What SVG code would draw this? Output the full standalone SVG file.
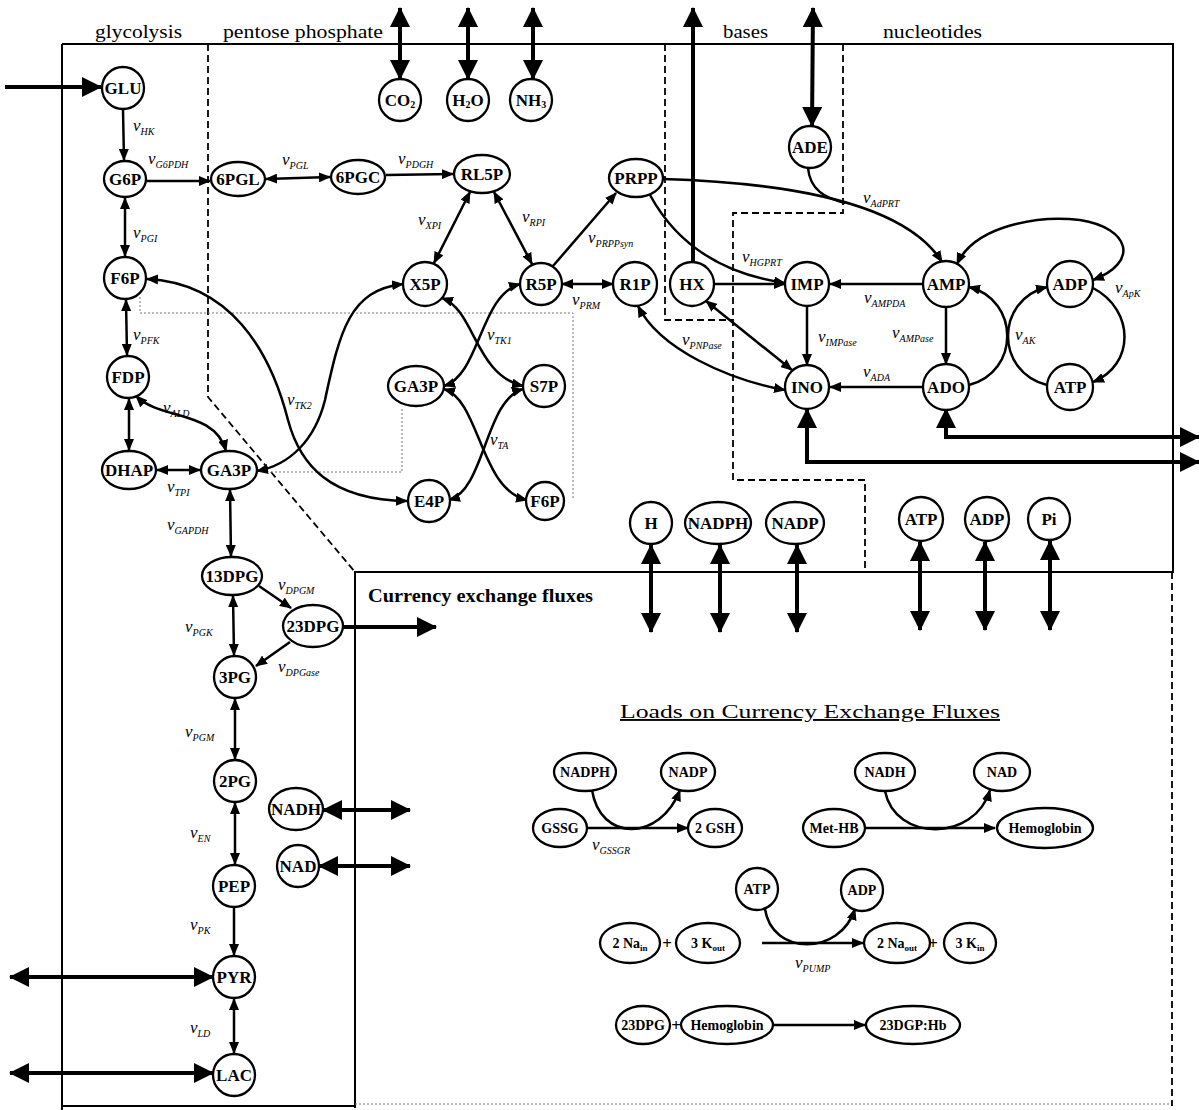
<svg xmlns="http://www.w3.org/2000/svg" width="1199" height="1110" viewBox="0 0 1199 1110">
<defs>
<marker id="a" viewBox="0 0 12 10" refX="11" refY="5" markerWidth="12" markerHeight="10" markerUnits="userSpaceOnUse" orient="auto-start-reverse"><path d="M0,0 L12,5 L0,10 z" fill="#000"/></marker>
<marker id="b" viewBox="0 0 20 20" refX="19" refY="10" markerWidth="20" markerHeight="20" markerUnits="userSpaceOnUse" orient="auto-start-reverse"><path d="M0,0 L20,10 L0,20 z" fill="#000"/></marker>
<style>
.n{fill:#fff;stroke:#000;stroke-width:2.3}
.t{font-family:"Liberation Serif",serif;font-weight:bold;font-size:17px;text-anchor:middle;dominant-baseline:central;fill:#000}
.ts{font-size:14px}
.e{fill:none;stroke:#000;stroke-width:2.5}
.x{fill:none;stroke:#000;stroke-width:4}
.v{font-family:"Liberation Serif",serif;font-style:italic;font-size:17px;fill:#000}
.s{font-size:10px}
.h{font-family:"Liberation Serif",serif;font-size:19px;fill:#000}
.bd{fill:none;stroke:#000;stroke-width:2}
.ds{fill:none;stroke:#000;stroke-width:1.8;stroke-dasharray:7 4}
.dt{fill:none;stroke:#777;stroke-width:1;stroke-dasharray:2 2}
</style>
</defs>
<rect width="1199" height="1110" fill="#fff"/>
<g id="borders">
<path class="bd" d="M62,44 L1173,44 L1173,572 L355,572 L355,1108"/>
<path class="bd" d="M62,44 L62,1110"/>
<path class="bd" d="M62,1106 L355,1106"/>
<path class="dt" d="M355,1104 L1172,1104"/>
<path class="ds" d="M1172,572 L1172,1106"/>
<path class="ds" d="M208,44 L208,397 L355,572"/>
<path class="ds" d="M665,44 L665,320 L733,320"/>
<path class="ds" d="M843,44 L843,213 L733,213 L733,480 L865,480 L865,572"/>
<path class="dt" d="M140,297 L140,313 L573,313 L573,500"/>
<path class="dt" d="M267,472 L402,472 L402,408"/>
</g>
<g id="titles">
<text class="h" x="95" y="38" textLength="87" lengthAdjust="spacingAndGlyphs">glycolysis</text>
<text class="h" x="223" y="38" textLength="160" lengthAdjust="spacingAndGlyphs">pentose  phosphate</text>
<text class="h" x="723" y="38" textLength="45" lengthAdjust="spacingAndGlyphs">bases</text>
<text class="h" x="883" y="38" textLength="99" lengthAdjust="spacingAndGlyphs">nucleotides</text>
<text class="h" x="368" y="602" font-weight="bold" font-size="17" textLength="225" lengthAdjust="spacingAndGlyphs">Currency exchange fluxes</text>
<text class="h" x="620" y="718" font-size="23" text-decoration="underline" textLength="380" lengthAdjust="spacingAndGlyphs">Loads on Currency Exchange Fluxes</text>
</g>
<g id="connectors">
<path class="e" d="M123,110 L124,160" marker-end="url(#a)"/>
<path class="e" d="M147,181 L210,181" marker-end="url(#a)"/>
<path class="e" d="M266,179 L330,177" marker-start="url(#a)" marker-end="url(#a)"/>
<path class="e" d="M386,175 L453,174" marker-end="url(#a)"/>
<path class="e" d="M125,198 L125,256" marker-start="url(#a)" marker-end="url(#a)"/>
<path class="e" d="M126,300 L127,355" marker-start="url(#a)" marker-end="url(#a)"/>
<path class="e" d="M129,399 L129,450" marker-start="url(#a)" marker-end="url(#a)"/>
<path class="e" d="M136,396 C160,420 215,410 226,451" marker-start="url(#a)" marker-end="url(#a)"/>
<path class="e" d="M157,470 L200,470" marker-start="url(#a)" marker-end="url(#a)"/>
<path class="e" d="M230,490 L231,556" marker-start="url(#a)" marker-end="url(#a)"/>
<path class="e" d="M233,596 L234,655" marker-start="url(#a)" marker-end="url(#a)"/>
<path class="e" d="M259,586 L291,608" marker-end="url(#a)"/>
<path class="e" d="M290,642 L256,666" marker-end="url(#a)"/>
<path class="e" d="M235,699 L235,759" marker-start="url(#a)" marker-end="url(#a)"/>
<path class="e" d="M235,803 L235,864" marker-start="url(#a)" marker-end="url(#a)"/>
<path class="e" d="M234,908 L234,955" marker-end="url(#a)"/>
<path class="e" d="M234,999 L234,1053" marker-start="url(#a)" marker-end="url(#a)"/>
<path class="e" d="M470,192 L434,263" marker-start="url(#a)" marker-end="url(#a)"/>
<path class="e" d="M494,192 L532,264" marker-start="url(#a)" marker-end="url(#a)"/>
<path class="e" d="M553,266 L616,193" marker-end="url(#a)"/>
<path class="e" d="M562,284 L613,284" marker-start="url(#a)" marker-end="url(#a)"/>
<path class="e" d="M442,298 C475,310 475,375 523,386" marker-start="url(#a)" marker-end="url(#a)"/>
<path class="e" d="M444,386 C480,375 480,295 520,284" marker-start="url(#a)" marker-end="url(#a)"/>
<path class="e" d="M444,389 C480,400 480,490 527,500" marker-start="url(#a)" marker-end="url(#a)"/>
<path class="e" d="M523,389 C485,400 485,490 449,500" marker-start="url(#a)" marker-end="url(#a)"/>
<path class="e" d="M147,279 C230,283 270,350 288,420 C300,465 330,500 407,501" marker-start="url(#a)" marker-end="url(#a)"/>
<path class="e" d="M257,471 C290,465 315,440 325,400 C340,330 350,290 403,284" marker-start="url(#a)" marker-end="url(#a)"/>
<path class="e" d="M650,195 C680,250 730,275 785,283" marker-end="url(#a)"/>
<path class="e" d="M714,284 L785,284" marker-end="url(#a)"/>
<path class="e" d="M663,179 C760,182 900,195 942,262" marker-end="url(#a)"/>
<path class="e" d="M808,168 C810,190 825,198 845,203"/>
<path class="e" d="M957,264 C975,225 1040,215 1080,220 C1130,228 1140,262 1093,280" marker-start="url(#a)" marker-end="url(#a)"/>
<path class="e" d="M1093,288 C1135,310 1135,365 1093,382" marker-end="url(#a)"/>
<path class="e" d="M969,287 C1020,300 1020,372 969,385" marker-start="url(#a)"/>
<path class="e" d="M1047,287 C995,300 995,372 1047,385" marker-start="url(#a)"/>
<path class="e" d="M923,284 L830,284" marker-end="url(#a)"/>
<path class="e" d="M807,306 L807,365" marker-end="url(#a)"/>
<path class="e" d="M946,307 L946,364" marker-end="url(#a)"/>
<path class="e" d="M923,387 L830,387" marker-end="url(#a)"/>
<path class="e" d="M638,306 C660,350 730,380 785,390" marker-start="url(#a)" marker-end="url(#a)"/>
<path class="e" d="M706,301 L792,370" marker-start="url(#a)" marker-end="url(#a)"/>
<path class="x" d="M5,87 L101,87" marker-end="url(#b)"/>
<path class="x" d="M400,8 L400,79" marker-start="url(#b)" marker-end="url(#b)"/>
<path class="x" d="M468,8 L468,79" marker-start="url(#b)" marker-end="url(#b)"/>
<path class="x" d="M533,8 L533,79" marker-start="url(#b)" marker-end="url(#b)"/>
<path class="x" d="M693,262 L693,8" marker-end="url(#b)"/>
<path class="x" d="M813,8 L812,126" marker-start="url(#b)" marker-end="url(#b)"/>
<path class="x" d="M946,409 L946,437 L1199,437" marker-start="url(#b)" marker-end="url(#b)"/>
<path class="x" d="M807,409 L807,462 L1199,462" marker-start="url(#b)" marker-end="url(#b)"/>
<path class="x" d="M343,627 L436,627" marker-end="url(#b)"/>
<path class="x" d="M323,810 L410,810" marker-start="url(#b)" marker-end="url(#b)"/>
<path class="x" d="M319,866 L410,866" marker-start="url(#b)" marker-end="url(#b)"/>
<path class="x" d="M10,977 L213,977" marker-start="url(#b)" marker-end="url(#b)"/>
<path class="x" d="M10,1073 L213,1073" marker-start="url(#b)" marker-end="url(#b)"/>
<path class="x" d="M651,545 L651,632" marker-start="url(#b)" marker-end="url(#b)"/>
<path class="x" d="M720,545 L720,632" marker-start="url(#b)" marker-end="url(#b)"/>
<path class="x" d="M797,545 L797,632" marker-start="url(#b)" marker-end="url(#b)"/>
<path class="x" d="M920,542 L920,630" marker-start="url(#b)" marker-end="url(#b)"/>
<path class="x" d="M985,542 L985,630" marker-start="url(#b)" marker-end="url(#b)"/>
<path class="x" d="M1050,541 L1050,630" marker-start="url(#b)" marker-end="url(#b)"/>
<path class="e" d="M588,828 L688,828" marker-end="url(#a)"/>
<path class="e" d="M592,790 C600,842 660,842 680,790" marker-end="url(#a)"/>
<path class="e" d="M865,828 L995,828" marker-end="url(#a)"/>
<path class="e" d="M885,791 C895,842 975,842 990,790" marker-end="url(#a)"/>
<path class="e" d="M762,943 L863,943" marker-end="url(#a)"/>
<path class="e" d="M765,909 C772,956 840,956 855,909" marker-end="url(#a)"/>
<path class="e" d="M772,1025 L865,1025" marker-end="url(#a)"/>
</g>
<g id="labels">
<text class="v" x="133" y="131">v<tspan class="s" dy="4">HK</tspan></text>
<text class="v" x="148" y="164">v<tspan class="s" dy="4">G6PDH</tspan></text>
<text class="v" x="282" y="165">v<tspan class="s" dy="4">PGL</tspan></text>
<text class="v" x="398" y="164">v<tspan class="s" dy="4">PDGH</tspan></text>
<text class="v" x="133" y="238">v<tspan class="s" dy="4">PGI</tspan></text>
<text class="v" x="133" y="340">v<tspan class="s" dy="4">PFK</tspan></text>
<text class="v" x="163" y="413">v<tspan class="s" dy="4">ALD</tspan></text>
<text class="v" x="167" y="492">v<tspan class="s" dy="4">TPI</tspan></text>
<text class="v" x="167" y="530">v<tspan class="s" dy="4">GAPDH</tspan></text>
<text class="v" x="278" y="590">v<tspan class="s" dy="4">DPGM</tspan></text>
<text class="v" x="185" y="632">v<tspan class="s" dy="4">PGK</tspan></text>
<text class="v" x="278" y="672">v<tspan class="s" dy="4">DPGase</tspan></text>
<text class="v" x="185" y="737">v<tspan class="s" dy="4">PGM</tspan></text>
<text class="v" x="190" y="838">v<tspan class="s" dy="4">EN</tspan></text>
<text class="v" x="190" y="930">v<tspan class="s" dy="4">PK</tspan></text>
<text class="v" x="190" y="1033">v<tspan class="s" dy="4">LD</tspan></text>
<text class="v" x="418" y="225">v<tspan class="s" dy="4">XPI</tspan></text>
<text class="v" x="522" y="222">v<tspan class="s" dy="4">RPI</tspan></text>
<text class="v" x="588" y="243">v<tspan class="s" dy="4">PRPPsyn</tspan></text>
<text class="v" x="572" y="305">v<tspan class="s" dy="4">PRM</tspan></text>
<text class="v" x="487" y="340">v<tspan class="s" dy="4">TK1</tspan></text>
<text class="v" x="490" y="445">v<tspan class="s" dy="4">TA</tspan></text>
<text class="v" x="287" y="405">v<tspan class="s" dy="4">TK2</tspan></text>
<text class="v" x="742" y="262">v<tspan class="s" dy="4">HGPRT</tspan></text>
<text class="v" x="863" y="203">v<tspan class="s" dy="4">AdPRT</tspan></text>
<text class="v" x="1115" y="293">v<tspan class="s" dy="4">ApK</tspan></text>
<text class="v" x="864" y="303">v<tspan class="s" dy="4">AMPDA</tspan></text>
<text class="v" x="818" y="342">v<tspan class="s" dy="4">IMPase</tspan></text>
<text class="v" x="892" y="338">v<tspan class="s" dy="4">AMPase</tspan></text>
<text class="v" x="1015" y="340">v<tspan class="s" dy="4">AK</tspan></text>
<text class="v" x="863" y="377">v<tspan class="s" dy="4">ADA</tspan></text>
<text class="v" x="682" y="345">v<tspan class="s" dy="4">PNPase</tspan></text>
<text class="v" x="592" y="850">v<tspan class="s" dy="4">GSSGR</tspan></text>
<text class="v" x="795" y="968">v<tspan class="s" dy="4">PUMP</tspan></text>
</g>
<g id="GLU"><circle class="n" cx="123" cy="88" r="21"/><text class="t" x="123" y="88">GLU</text></g>
<g id="G6P"><ellipse class="n" cx="125" cy="179" rx="21" ry="18"/><text class="t" x="125" y="179">G6P</text></g>
<g id="F6P"><circle class="n" cx="125" cy="278" r="21"/><text class="t" x="125" y="278">F6P</text></g>
<g id="FDP"><circle class="n" cx="128" cy="377" r="21"/><text class="t" x="128" y="377">FDP</text></g>
<g id="DHAP"><ellipse class="n" cx="129" cy="470" rx="27" ry="19"/><text class="t" x="129" y="470">DHAP</text></g>
<g id="GA3P-1"><ellipse class="n" cx="229" cy="470" rx="28" ry="19"/><text class="t" x="229" y="470">GA3P</text></g>
<g id="DPG13"><ellipse class="n" cx="232" cy="576" rx="30" ry="19"/><text class="t" x="232" y="576">13DPG</text></g>
<g id="DPG23"><ellipse class="n" cx="313" cy="626" rx="30" ry="21"/><text class="t" x="313" y="626">23DPG</text></g>
<g id="PG3"><circle class="n" cx="235" cy="677" r="21"/><text class="t" x="235" y="677">3PG</text></g>
<g id="PG2"><circle class="n" cx="235" cy="781" r="21"/><text class="t" x="235" y="781">2PG</text></g>
<g id="PEP"><circle class="n" cx="234" cy="886" r="21"/><text class="t" x="234" y="886">PEP</text></g>
<g id="PYR"><circle class="n" cx="234" cy="977" r="21"/><text class="t" x="234" y="977">PYR</text></g>
<g id="LAC"><circle class="n" cx="234" cy="1075" r="21"/><text class="t" x="234" y="1075">LAC</text></g>
<g id="NADH-1"><ellipse class="n" cx="296" cy="809" rx="27" ry="21"/><text class="t" x="296" y="809">NADH</text></g>
<g id="NAD-1"><circle class="n" cx="298" cy="866" r="21"/><text class="t" x="298" y="866">NAD</text></g>
<g id="PGL6"><ellipse class="n" cx="238" cy="179" rx="27" ry="17"/><text class="t" x="238" y="179">6PGL</text></g>
<g id="PGC6"><ellipse class="n" cx="358" cy="177" rx="27" ry="17"/><text class="t" x="358" y="177">6PGC</text></g>
<g id="RL5P"><ellipse class="n" cx="482" cy="174" rx="28" ry="19"/><text class="t" x="482" y="174">RL5P</text></g>
<g id="PRPP"><ellipse class="n" cx="636" cy="178" rx="27" ry="19"/><text class="t" x="636" y="178">PRPP</text></g>
<g id="CO2"><circle class="n" cx="400" cy="100" r="21"/><text class="t" x="400" y="100">CO<tspan font-size="10" dy="4">2</tspan></text></g>
<g id="H2O"><circle class="n" cx="468" cy="100" r="21"/><text class="t" x="468" y="100">H<tspan font-size="10" dy="4">2</tspan><tspan dy="-4">O</tspan></text></g>
<g id="NH3"><circle class="n" cx="531" cy="100" r="21"/><text class="t" x="531" y="100">NH<tspan font-size="10" dy="4">3</tspan></text></g>
<g id="ADE"><circle class="n" cx="810" cy="147" r="21"/><text class="t" x="810" y="147">ADE</text></g>
<g id="X5P"><circle class="n" cx="425" cy="284" r="22"/><text class="t" x="425" y="284">X5P</text></g>
<g id="R5P"><circle class="n" cx="541" cy="284" r="21"/><text class="t" x="541" y="284">R5P</text></g>
<g id="R1P"><circle class="n" cx="635" cy="284" r="22"/><text class="t" x="635" y="284">R1P</text></g>
<g id="HX"><circle class="n" cx="692" cy="284" r="22"/><text class="t" x="692" y="284">HX</text></g>
<g id="IMP"><circle class="n" cx="807" cy="284" r="22"/><text class="t" x="807" y="284">IMP</text></g>
<g id="AMP"><circle class="n" cx="946" cy="284" r="23"/><text class="t" x="946" y="284">AMP</text></g>
<g id="ADP-1"><circle class="n" cx="1070" cy="284" r="23"/><text class="t" x="1070" y="284">ADP</text></g>
<g id="GA3P-2"><ellipse class="n" cx="416" cy="386" rx="28" ry="20"/><text class="t" x="416" y="386">GA3P</text></g>
<g id="S7P"><circle class="n" cx="544" cy="386" r="21"/><text class="t" x="544" y="386">S7P</text></g>
<g id="INO"><circle class="n" cx="807" cy="387" r="22"/><text class="t" x="807" y="387">INO</text></g>
<g id="ADO"><circle class="n" cx="946" cy="387" r="23"/><text class="t" x="946" y="387">ADO</text></g>
<g id="ATP-1"><circle class="n" cx="1070" cy="387" r="23"/><text class="t" x="1070" y="387">ATP</text></g>
<g id="E4P"><circle class="n" cx="429" cy="501" r="21"/><text class="t" x="429" y="501">E4P</text></g>
<g id="F6P-2"><circle class="n" cx="545" cy="501" r="19"/><text class="t" x="545" y="501">F6P</text></g>
<g id="H"><circle class="n" cx="651" cy="523" r="21"/><text class="t" x="651" y="523">H</text></g>
<g id="NADPH-1"><ellipse class="n" cx="718" cy="523" rx="33" ry="21"/><text class="t" x="718" y="523">NADPH</text></g>
<g id="NADP-1"><ellipse class="n" cx="795" cy="523" rx="29" ry="21"/><text class="t" x="795" y="523">NADP</text></g>
<g id="ATP-2"><circle class="n" cx="921" cy="519" r="22"/><text class="t" x="921" y="519">ATP</text></g>
<g id="ADP-2"><circle class="n" cx="987" cy="519" r="22"/><text class="t" x="987" y="519">ADP</text></g>
<g id="Pi"><circle class="n" cx="1049" cy="519" r="21"/><text class="t" x="1049" y="519">Pi</text></g>
<g id="NADPH-2"><ellipse class="n" cx="585" cy="772" rx="31" ry="19"/><text class="t ts" x="585" y="772">NADPH</text></g>
<g id="NADP-2"><ellipse class="n" cx="688" cy="772" rx="27" ry="19"/><text class="t ts" x="688" y="772">NADP</text></g>
<g id="GSSG"><ellipse class="n" cx="560" cy="828" rx="27" ry="19"/><text class="t ts" x="560" y="828">GSSG</text></g>
<g id="GSH"><ellipse class="n" cx="715" cy="828" rx="27" ry="19"/><text class="t ts" x="715" y="828">2 GSH</text></g>
<g id="NADH-2"><ellipse class="n" cx="885" cy="772" rx="30" ry="19"/><text class="t ts" x="885" y="772">NADH</text></g>
<g id="NAD-2"><ellipse class="n" cx="1002" cy="772" rx="28" ry="19"/><text class="t ts" x="1002" y="772">NAD</text></g>
<g id="MetHB"><ellipse class="n" cx="834" cy="828" rx="31" ry="19"/><text class="t ts" x="834" y="828">Met-HB</text></g>
<g id="Hemoglobin-1"><ellipse class="n" cx="1045" cy="828" rx="48" ry="20"/><text class="t ts" x="1045" y="828">Hemoglobin</text></g>
<g id="ATP-3"><circle class="n" cx="757" cy="889" r="21"/><text class="t ts" x="757" y="889">ATP</text></g>
<g id="ADP-3"><circle class="n" cx="862" cy="890" r="21"/><text class="t ts" x="862" y="890">ADP</text></g>
<g id="Na-in"><ellipse class="n" cx="630" cy="943" rx="30" ry="20"/><text class="t ts" x="630" y="943">2 Na<tspan font-size="9" dy="5">in</tspan></text></g>
<g id="K-out"><ellipse class="n" cx="708" cy="943" rx="32" ry="20"/><text class="t ts" x="708" y="943">3 K<tspan font-size="9" dy="5">out</tspan></text></g>
<g id="Na-out"><ellipse class="n" cx="897" cy="943" rx="33" ry="20"/><text class="t ts" x="897" y="943">2 Na<tspan font-size="9" dy="5">out</tspan></text></g>
<g id="K-in"><ellipse class="n" cx="970" cy="943" rx="26" ry="20"/><text class="t ts" x="970" y="943">3 K<tspan font-size="9" dy="5">in</tspan></text></g>
<g id="DPG23-2"><ellipse class="n" cx="643" cy="1025" rx="27" ry="19"/><text class="t ts" x="643" y="1025">23DPG</text></g>
<g id="Hemoglobin-2"><ellipse class="n" cx="727" cy="1025" rx="46" ry="19"/><text class="t ts" x="727" y="1025">Hemoglobin</text></g>
<g id="DGPHb"><ellipse class="n" cx="913" cy="1025" rx="47" ry="19"/><text class="t ts" x="913" y="1025">23DGP:Hb</text></g>
<g id="plus">
<text class="t" x="667" y="943" font-size="22">+</text>
<text class="t" x="933" y="943" font-size="22">+</text>
<text class="t" x="676" y="1025" font-size="22">+</text>
</g>
</svg>
